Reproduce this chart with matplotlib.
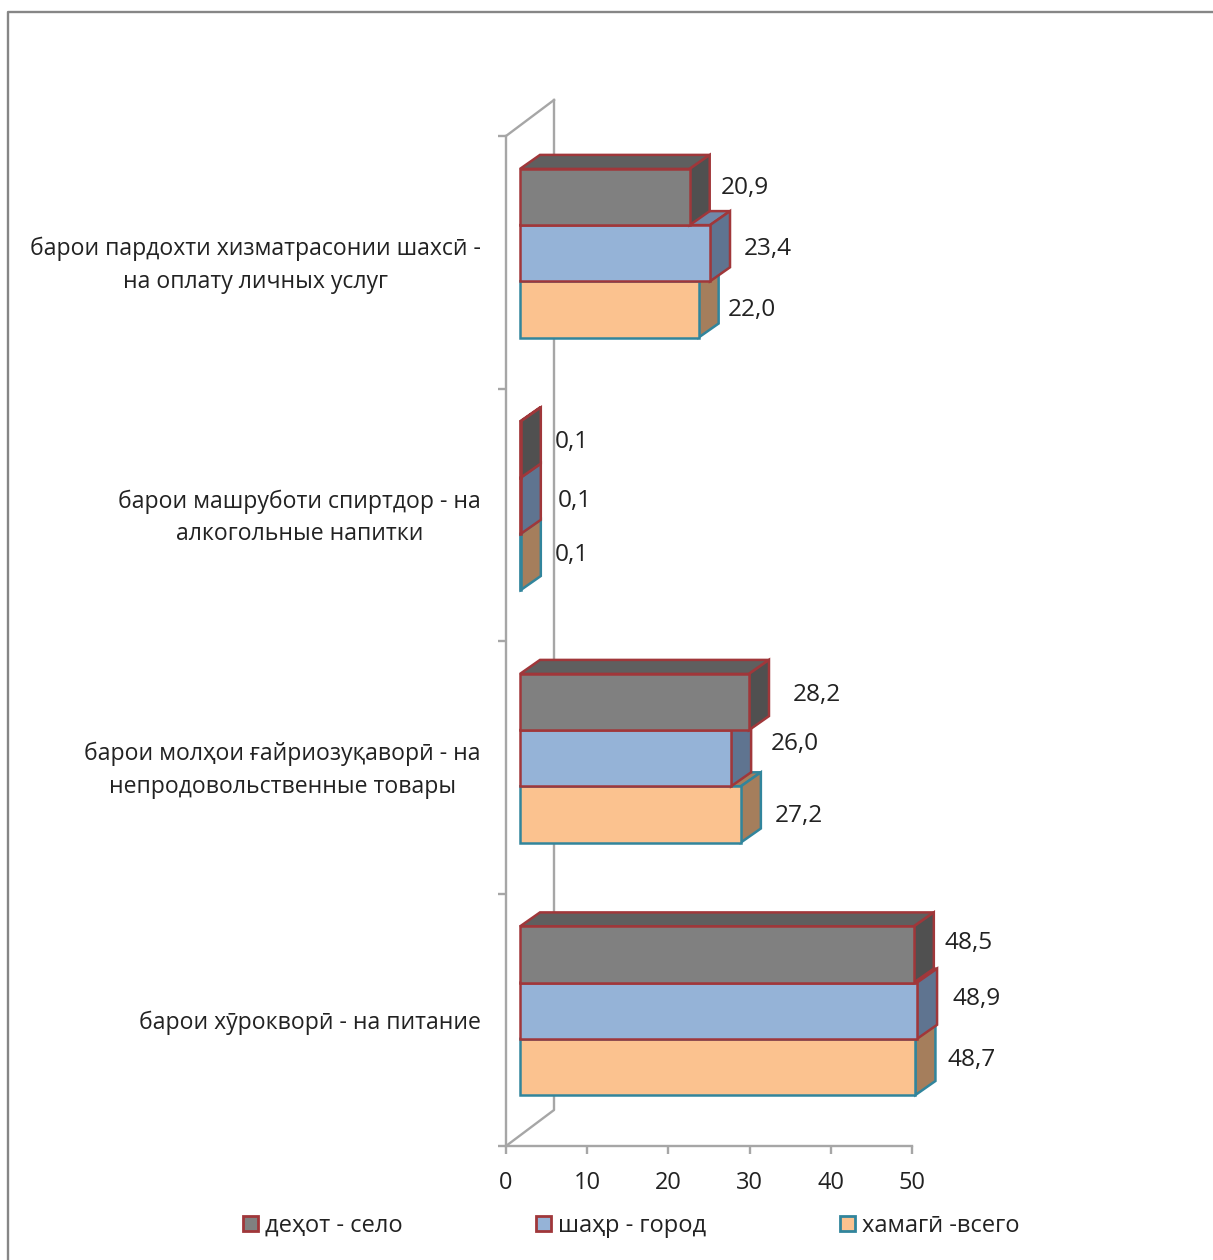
import matplotlib
matplotlib.use('Agg')
import matplotlib.pyplot as plt
from matplotlib.lines import Line2D
from matplotlib.patches import Patch, Polygon
from matplotlib.transforms import ScaledTranslation

plt.rcParams['font.family'] = ['Open Sans', 'DejaVu Sans']

W, H = 1213, 1260

categories = [
    'барои хӯрокворӣ - на питание',
    'барои молҳои ғайриозуқаворӣ - на\nнепродовольственные товары',
    'барои машруботи спиртдор - на\nалкогольные напитки',
    'барои пардохти хизматрасонии шахсӣ -\nна оплату личных услуг',
]
series_names = ['хамагӣ -всего', 'шаҳр - город', 'деҳот - село']
total = [48.7, 27.2, 0.1, 22.0]
city = [48.9, 26.0, 0.1, 23.4]
village = [48.5, 28.2, 0.1, 20.9]
x_ticks = [0, 10, 20, 30, 40, 50]

# label nudges in pixels from the end of each bar, the original has them uneven
total_dx = [32, 34, 34, 29]
total_dy = [7, -2, 7, -1]
city_dx = [35, 40, 37, 34]
city_dy = [12, 14, 5, 4]
village_dx = [31, 44, 34, 31]
village_dy = [12, 7, 7, 9]

front = ['#FBC28F', '#95B3D7', '#808080']
side = ['#A57E5C', '#5F7490', '#505050']
top = ['#A57E5C', '#7088A8', '#5F5F5F']
edge = ['#31859C', '#A0373A', '#A0373A']

AXIS = '#A6A6A6'
TEXT = '#222222'

fig = plt.figure(figsize=(W / 100, H / 100), dpi=100)
left, right, bottom, upper = 506, 912, 1146, 136
ax = fig.add_axes([left / W, 1 - bottom / H, (right - left) / W, (bottom - upper) / H])
ax.set_xlim(0, 50)
ax.set_ylim(0, 4)

px_x = 50 / (right - left)
px_y = 4 / (bottom - upper)

# fake 3d depth
bar_dx, bar_dy = 20 * px_x, 14 * px_y
wall_dx, wall_dy = 48 * px_x, 36 * px_y
x0 = 14 * px_x
h = 56.2 * px_y
base = 51 * px_y

ax.plot([0, wall_dx, wall_dx], [0, wall_dy, 4 + wall_dy], color=AXIS, lw=1.7, clip_on=False, zorder=1)
ax.plot([0, wall_dx], [4, 4 + wall_dy], color=AXIS, lw=1.7, clip_on=False, zorder=1)

all_values = [total, city, village]
all_dx = [total_dx, city_dx, village_dx]
all_dy = [total_dy, city_dy, village_dy]

z = 3
for s, values in enumerate(all_values):
    ys = [i + base + h * s + h / 2 for i in range(len(values))]
    for i, v in enumerate(values):
        lo = ys[i] - h / 2
        hi = ys[i] + h / 2
        end = x0 + v
        kw = dict(edgecolor=edge[s], linewidth=1.8, joinstyle='miter', clip_on=False, zorder=z)
        ax.add_patch(Polygon([(x0, hi), (x0 + bar_dx, hi + bar_dy), (end + bar_dx, hi + bar_dy), (end, hi)],
                             facecolor=top[s], **kw))
        ax.add_patch(Polygon([(end, lo), (end + bar_dx, lo + bar_dy), (end + bar_dx, hi + bar_dy), (end, hi)],
                             facecolor=side[s], **kw))
        ax.annotate(f'{v:.1f}'.replace('.', ','), (end, ys[i]),
                    xytext=(all_dx[s][i], all_dy[s][i]), textcoords='offset pixels',
                    va='center', ha='left', fontsize=17.6, color=TEXT, annotation_clip=False)
    ax.barh(ys, values, left=x0, height=h, color=front[s], edgecolor=edge[s], linewidth=1.8,
            clip_on=False, zorder=z + 0.5)
    z += 1

for name in ['top', 'right']:
    ax.spines[name].set_visible(False)
for name in ['left', 'bottom']:
    ax.spines[name].set_color(AXIS)
    ax.spines[name].set_linewidth(1.7)

ax.set_xticks(x_ticks)
ax.set_yticks(range(5))
ax.set_yticklabels([])
ax.set_yticks([i + 0.5 for i in range(4)], minor=True)
ax.set_yticklabels(categories, minor=True, multialignment='center', fontsize=16.6, color=TEXT, linespacing=1.46)
ax.tick_params(axis='y', which='major', length=6, width=1.7, color=AXIS)
ax.tick_params(axis='y', which='minor', length=0, pad=18)
ax.tick_params(axis='x', length=6, width=1.7, color=AXIS, labelsize=17, labelcolor=TEXT, pad=12)

# two line labels sit a bit low otherwise
for label in ax.get_yticklabels(minor=True):
    if '\n' in label.get_text():
        label.set_transform(label.get_transform() + ScaledTranslation(0, 4 / 100, fig.dpi_scale_trans))

# chart area border, cut off by the screenshot on the right and bottom
fig.add_artist(Line2D([8 / W, 8 / W, 1], [0, 1 - 12 / H, 1 - 12 / H], color='#868686', lw=1.7))

order = [2, 1, 0]
handles = [Patch(facecolor=front[s], edgecolor=edge[s], linewidth=2, label=series_names[s]) for s in order]
fig.legend(handles=handles, ncol=3, loc='center left', bbox_to_anchor=(243 / W, 1 - 1226 / H),
           frameon=False, fontsize=17, borderpad=0, borderaxespad=0, handlelength=0.62, handleheight=0.62,
           handletextpad=0.3, columnspacing=5.68, labelcolor=TEXT)

fig.savefig('out.png', dpi=100)
